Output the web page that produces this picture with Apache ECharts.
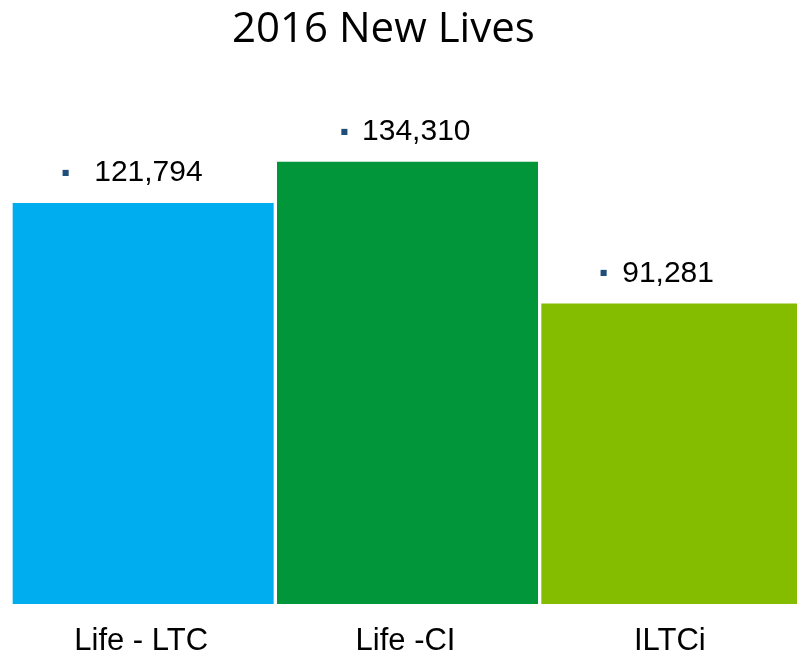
<!DOCTYPE html>
<html>
<head>
<meta charset="utf-8">
<script src="https://cdn.jsdelivr.net/npm/echarts@6/dist/echarts.min.js"></script>
<style>
  html, body { margin: 0; padding: 0; background: #fff; }
  #main { width: 797px; height: 656px; }
</style>
</head>
<body>
<div id="main"></div>
<script>
// data
var categories = ['Life - LTC', 'Life -CI', 'ILTCi'];
var newLives = [121794, 134310, 91281];
var yMax = 150000;

// styling
var barColors = ['#00aeef', '#009639', '#84bd00'];
var markGap = [25, 14, 15];
var labelShift = [-11, -2, -15];

var chart = echarts.init(document.getElementById('main'));

var seriesData = newLives.map(function (v, i) {
    return {
        value: v,
        itemStyle: { color: barColors[i] },
        label: {
            offset: [labelShift[i], 0],
            rich: {
                m: { fontFamily: 'DejaVu Sans', fontSize: 8, color: '#1f4e79', padding: [0, markGap[i], 0, 0] },
                n: { fontFamily: 'Liberation Sans', fontSize: 30, lineHeight: 30, color: '#000' }
            }
        }
    };
});

chart.setOption({
    backgroundColor: '#fff',
    animation: false,
    title: {
        text: '2016 New Lives',
        left: 232,
        top: 9,
        padding: 0,
        textStyle: {
            fontFamily: 'Open Sans',
            fontWeight: 'normal',
            fontSize: 42,
            lineHeight: 42,
            color: '#000'
        }
    },
    grid: { left: 11, top: 110, width: 793, height: 494, outerBoundsMode: 'none', containLabel: false },
    xAxis: {
        type: 'category',
        data: categories,
        axisLine: { show: false },
        axisTick: { show: false },
        axisLabel: {
            margin: 22,
            fontFamily: 'Liberation Sans',
            fontSize: 31,
            lineHeight: 31,
            color: '#000',
            padding: [0, 4, 0, 0]
        }
    },
    yAxis: {
        type: 'value',
        min: 0,
        max: yMax,
        show: false,
        splitLine: { show: false }
    },
    series: [{
        type: 'bar',
        barWidth: 261,
        data: seriesData,
        label: {
            show: true,
            position: 'top',
            distance: 15,
            formatter: function (p) {
                return '{m|\u25A0}{n|' + p.value.toLocaleString('en-US') + '}';
            }
        }
    }]
});
</script>
</body>
</html>
